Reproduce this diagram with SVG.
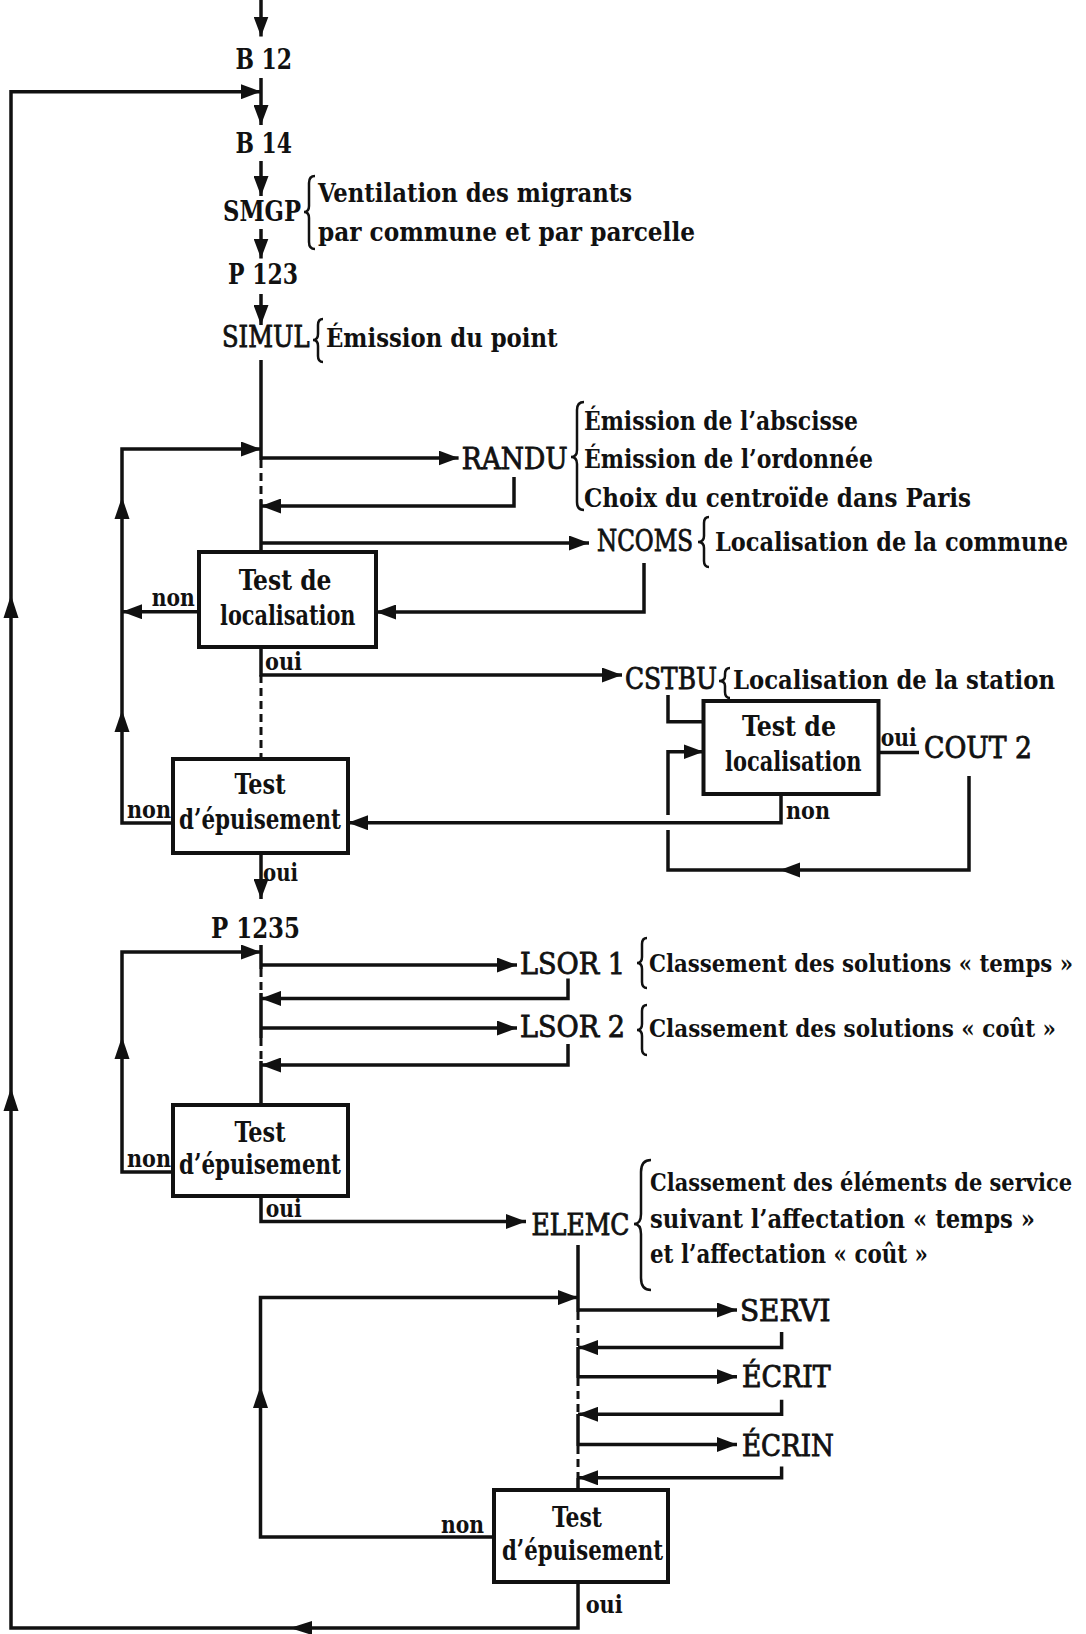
<svg xmlns="http://www.w3.org/2000/svg" width="1086" height="1634" viewBox="0 0 1086 1634">
<style>
text{font-family:'DejaVu Serif Condensed','DejaVu Serif','Liberation Serif',serif;fill:#111}
.b{font-weight:bold;font-size:28px}
.r{font-weight:normal;font-size:29px;stroke:#111;stroke-width:0.8}
.d{font-weight:bold;font-size:26px}
.e{font-weight:bold;font-size:24px}
.s{font-weight:bold;font-size:24px}
.c{stroke:#111;stroke-width:3.5;fill:none}
.k{stroke:#111;stroke-width:3;fill:none;stroke-dasharray:8 5}
.box{fill:#fff;stroke:#111;stroke-width:4}
.ah{fill:#111}
.br{stroke:#111;stroke-width:2.5;fill:none}
</style>
<defs>
<marker id="a" markerWidth="20" markerHeight="15" refX="20" refY="7.5" orient="auto" markerUnits="userSpaceOnUse"><path d="M0,0 L20,7.5 L0,15 z" fill="#111"/></marker>
</defs>
<g id="connectors">
<path class="c" d="M261,0 V36.5" marker-end="url(#a)"/>
<path class="c" d="M261,78 V125" marker-end="url(#a)"/>
<path class="c" d="M578,1582 V1628 H11 V91.7 H261" marker-end="url(#a)"/>
<path class="ah" d="M11,595 L3.5,618 L18.5,618 z"/>
<path class="ah" d="M11,1088 L3.5,1111 L18.5,1111 z"/>
<path class="ah" d="M290,1628 L312,1621 L312,1635 z"/>
<path class="c" d="M261,161 V196" marker-end="url(#a)"/>
<path class="c" d="M261,229 V258.5" marker-end="url(#a)"/>
<path class="c" d="M261,294 V325" marker-end="url(#a)"/>
<path class="c" d="M261,360 V460"/>
<path class="k" d="M261,460 V500"/>
<path class="c" d="M261,500 V552"/>
<path class="c" d="M261,458 H458.6" marker-end="url(#a)"/>
<path class="c" d="M514,477 V506 H261" marker-end="url(#a)"/>
<path class="c" d="M261,543 H589" marker-end="url(#a)"/>
<path class="c" d="M644,563 V612 H376" marker-end="url(#a)"/>
<path class="c" d="M173,823 H122 V449 H261" marker-end="url(#a)"/>
<path class="ah" d="M122,497 L114.5,519 L129.5,519 z"/>
<path class="ah" d="M122,710 L114.5,732 L129.5,732 z"/>
<path class="c" d="M199,611.7 H122" marker-end="url(#a)"/>
<path class="c" d="M261,647 V675 H622" marker-end="url(#a)"/>
<path class="k" d="M261,675 V758"/>
<path class="c" d="M668,695 V721.7 H703.5"/>
<path class="c" d="M969,776 V870 H668 V830"/>
<path class="ah" d="M780,870 L800,862.5 L800,877.5 z"/>
<path class="c" d="M668,815 V751.7 H703.5" marker-end="url(#a)"/>
<path class="c" d="M781,794 V822.7 H348" marker-end="url(#a)"/>
<path class="c" d="M878.6,752.5 H919"/>
<path class="c" d="M261,852.5 V899" marker-end="url(#a)"/>
<path class="c" d="M173,1172 H122 V952 H261" marker-end="url(#a)"/>
<path class="ah" d="M122,1036.7 L114.5,1059 L129.5,1059 z"/>
<path class="c" d="M261,945 V969"/>
<path class="k" d="M261,969 V993"/>
<path class="c" d="M261,993 V1038"/>
<path class="k" d="M261,1038 V1061"/>
<path class="c" d="M261,1061 V1105"/>
<path class="c" d="M261,965 H517" marker-end="url(#a)"/>
<path class="c" d="M568,978.6 V998.4 H261" marker-end="url(#a)"/>
<path class="c" d="M261,1028 H517" marker-end="url(#a)"/>
<path class="c" d="M568,1044 V1065 H261" marker-end="url(#a)"/>
<path class="c" d="M261,1196.4 V1221.5 H526" marker-end="url(#a)"/>
<path class="c" d="M578,1245 V1312"/>
<path class="k" d="M578,1312 V1347"/>
<path class="c" d="M578,1347 V1378"/>
<path class="k" d="M578,1378 V1414"/>
<path class="c" d="M578,1414 V1446"/>
<path class="k" d="M578,1446 V1478"/>
<path class="c" d="M578,1478 V1490"/>
<path class="c" d="M494,1537 H260.5 V1297.6 H578" marker-end="url(#a)"/>
<path class="ah" d="M260.5,1386 L253,1408 L268,1408 z"/>
<path class="c" d="M578,1310 H737" marker-end="url(#a)"/>
<path class="c" d="M781.6,1332 V1347.6 H578" marker-end="url(#a)"/>
<path class="c" d="M578,1376.7 H737" marker-end="url(#a)"/>
<path class="c" d="M781.6,1399.7 V1414.3 H578" marker-end="url(#a)"/>
<path class="c" d="M578,1444.5 H737" marker-end="url(#a)"/>
<path class="c" d="M781.6,1466.4 V1477.8 H578" marker-end="url(#a)"/>
</g>
<g id="B12"><text class="b" x="235.5" y="69" textLength="56.5" lengthAdjust="spacingAndGlyphs">B 12</text></g>
<g id="B14"><text class="b" x="235.5" y="153" textLength="56.5" lengthAdjust="spacingAndGlyphs">B 14</text></g>
<g id="SMGP">
<text class="b" x="223" y="221" textLength="78" lengthAdjust="spacingAndGlyphs">SMGP</text>
<path class="br" d="M315,176 Q309,176 309,183 V206 Q309,212 304,212 Q309,212 309,218 V242 Q309,249 315,249"/>
<text class="d" x="318" y="202" textLength="314" lengthAdjust="spacingAndGlyphs">Ventilation des migrants</text>
<text class="d" x="318" y="241" textLength="377" lengthAdjust="spacingAndGlyphs">par commune et par parcelle</text>
</g>
<g id="P123"><text class="b" x="228" y="283.5" textLength="70" lengthAdjust="spacingAndGlyphs">P 123</text></g>
<g id="SIMUL">
<text class="r" x="222" y="347" textLength="87.5" lengthAdjust="spacingAndGlyphs">SIMUL</text>
<path class="br" d="M323,319 Q318,319 318,325 V334 Q318,340 313,340 Q318,340 318,346 V356 Q318,362 323,362"/>
<text class="d" x="326" y="347" textLength="231.6" lengthAdjust="spacingAndGlyphs">Émission du point</text>
</g>
<g id="RANDU">
<text class="r" x="461.7" y="469" textLength="106" lengthAdjust="spacingAndGlyphs">RANDU</text>
<path class="br" d="M584,402 Q577,402 577,410 V450 Q577,457 571,457 Q577,457 577,464 V502 Q577,510 584,510"/>
<text class="d" x="584" y="430.4" textLength="274" lengthAdjust="spacingAndGlyphs">Émission de l’abscisse</text>
<text class="d" x="584" y="468" textLength="289" lengthAdjust="spacingAndGlyphs">Émission de l’ordonnée</text>
<text class="d" x="584" y="506.5" textLength="387" lengthAdjust="spacingAndGlyphs">Choix du centroïde dans Paris</text>
</g>
<g id="NCOMS">
<text class="r" x="597" y="551" textLength="96" lengthAdjust="spacingAndGlyphs">NCOMS</text>
<path class="br" d="M709,517 Q704,517 704,523 V536 Q704,542 698,542 Q704,542 704,548 V561 Q704,567 709,567"/>
<text class="d" x="715" y="551" textLength="353" lengthAdjust="spacingAndGlyphs">Localisation de la commune</text>
</g>
<g id="test-loc-1">
<rect class="box" x="199" y="552" width="177" height="95"/>
<text class="b" x="238.7" y="590" textLength="92.7" lengthAdjust="spacingAndGlyphs">Test de</text>
<text class="b" x="220" y="625" textLength="135.5" lengthAdjust="spacingAndGlyphs">localisation</text>
<text class="s" x="151.7" y="606" textLength="43" lengthAdjust="spacingAndGlyphs">non</text>
<text class="s" x="265" y="670" textLength="37" lengthAdjust="spacingAndGlyphs">oui</text>
</g>
<g id="CSTBU">
<text class="r" x="625" y="689" textLength="92" lengthAdjust="spacingAndGlyphs">CSTBU</text>
<path class="br" d="M730,668 Q725,668 725,674 V676 Q725,681 719,681 Q725,681 725,686 V692 Q725,698 730,698"/>
<text class="d" x="733" y="689" textLength="322" lengthAdjust="spacingAndGlyphs">Localisation de la station</text>
</g>
<g id="test-epuis-1">
<rect class="box" x="173" y="759" width="175" height="94"/>
<text class="b" x="234.5" y="794" textLength="51" lengthAdjust="spacingAndGlyphs">Test</text>
<text class="b" x="179" y="828.6" textLength="162" lengthAdjust="spacingAndGlyphs">d’épuisement</text>
<text class="s" x="127" y="818" textLength="44" lengthAdjust="spacingAndGlyphs">non</text>
<text class="s" x="263" y="880.6" textLength="35" lengthAdjust="spacingAndGlyphs">oui</text>
</g>
<g id="test-loc-2">
<rect class="box" x="703.5" y="701" width="175" height="93"/>
<text class="b" x="742" y="736" textLength="94" lengthAdjust="spacingAndGlyphs">Test de</text>
<text class="b" x="725" y="771" textLength="136.5" lengthAdjust="spacingAndGlyphs">localisation</text>
<text class="s" x="786" y="819" textLength="44" lengthAdjust="spacingAndGlyphs">non</text>
<text class="s" x="880.7" y="746" textLength="36" lengthAdjust="spacingAndGlyphs">oui</text>
</g>
<g id="COUT2"><text class="r" x="924" y="758" textLength="108" lengthAdjust="spacingAndGlyphs">COUT 2</text></g>
<g id="P1235"><text class="b" x="211" y="937.6" textLength="89" lengthAdjust="spacingAndGlyphs">P 1235</text></g>
<g id="LSOR1">
<text class="r" x="520" y="974" textLength="105" lengthAdjust="spacingAndGlyphs">LSOR 1</text>
<path class="br" d="M647,938 Q642,938 642,944 V957 Q642,963 637,963 Q642,963 642,969 V982 Q642,988 647,988"/>
<text class="e" x="649" y="972" textLength="424" lengthAdjust="spacingAndGlyphs">Classement des solutions « temps »</text>
</g>
<g id="LSOR2">
<text class="r" x="520" y="1036.5" textLength="105" lengthAdjust="spacingAndGlyphs">LSOR 2</text>
<path class="br" d="M647,1005 Q642,1005 642,1011 V1024 Q642,1030 637,1030 Q642,1030 642,1036 V1049 Q642,1055 647,1055"/>
<text class="e" x="649" y="1036.5" textLength="407" lengthAdjust="spacingAndGlyphs">Classement des solutions « coût »</text>
</g>
<g id="test-epuis-2">
<rect class="box" x="173" y="1105" width="175" height="91"/>
<text class="b" x="234.5" y="1142" textLength="51" lengthAdjust="spacingAndGlyphs">Test</text>
<text class="b" x="179" y="1173.5" textLength="162" lengthAdjust="spacingAndGlyphs">d’épuisement</text>
<text class="s" x="127" y="1167" textLength="44" lengthAdjust="spacingAndGlyphs">non</text>
<text class="s" x="265.8" y="1217" textLength="36" lengthAdjust="spacingAndGlyphs">oui</text>
</g>
<g id="ELEMC">
<text class="r" x="531.5" y="1235" textLength="98" lengthAdjust="spacingAndGlyphs">ELEMC</text>
<path class="br" d="M651,1160 Q641,1160 641,1172 V1214 Q641,1224 634,1224 Q641,1224 641,1234 V1278 Q641,1290 651,1290"/>
<text class="e" x="650" y="1191" textLength="422" lengthAdjust="spacingAndGlyphs">Classement des éléments de service</text>
<text class="d" x="650" y="1228" textLength="385" lengthAdjust="spacingAndGlyphs">suivant l’affectation « temps »</text>
<text class="d" x="650" y="1263" textLength="278" lengthAdjust="spacingAndGlyphs">et l’affectation « coût »</text>
</g>
<g id="SERVI"><text class="r" x="740" y="1320.5" textLength="90.6" lengthAdjust="spacingAndGlyphs">SERVI</text></g>
<g id="ECRIT"><text class="r" x="742" y="1387" textLength="88.6" lengthAdjust="spacingAndGlyphs">ÉCRIT</text></g>
<g id="ECRIN"><text class="r" x="742" y="1456" textLength="92" lengthAdjust="spacingAndGlyphs">ÉCRIN</text></g>
<g id="test-epuis-3">
<rect class="box" x="494" y="1490" width="174" height="92"/>
<text class="b" x="552" y="1527" textLength="50" lengthAdjust="spacingAndGlyphs">Test</text>
<text class="b" x="502" y="1560" textLength="161" lengthAdjust="spacingAndGlyphs">d’épuisement</text>
<text class="s" x="441" y="1533" textLength="43" lengthAdjust="spacingAndGlyphs">non</text>
<text class="s" x="585.7" y="1613" textLength="37" lengthAdjust="spacingAndGlyphs">oui</text>
</g>
</svg>
